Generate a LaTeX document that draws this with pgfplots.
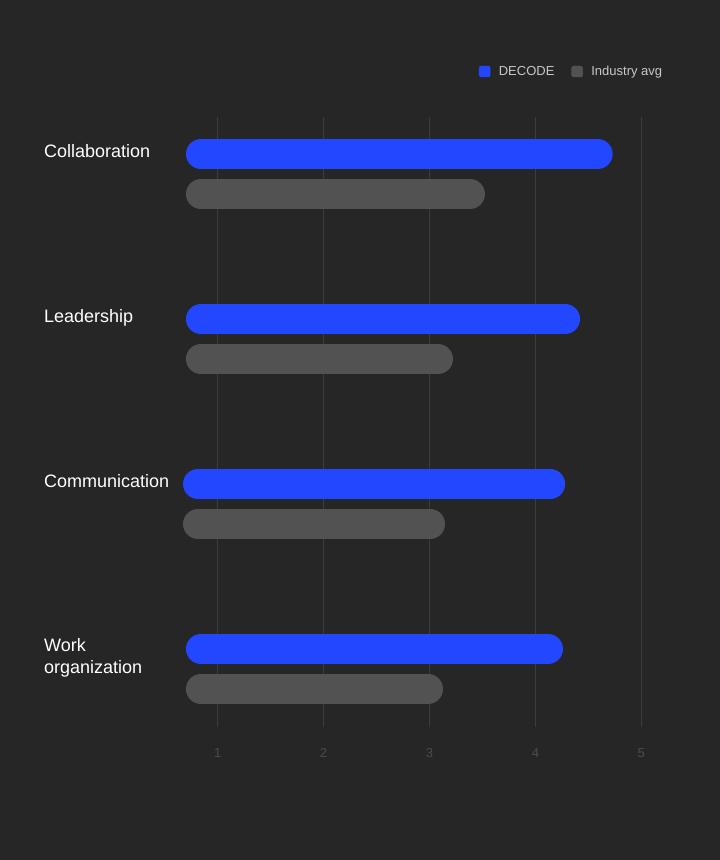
\documentclass[border=0pt]{standalone}
\usepackage{fontspec}
\setmainfont{Liberation Sans}
\usepackage{pgfplots}
\pgfplotsset{compat=1.18}
\definecolor{bg}{HTML}{262626}
\definecolor{decode}{HTML}{2346FF}
\definecolor{indavg}{HTML}{525252}
\definecolor{gridc}{HTML}{3C3C3C}
\definecolor{tickc}{HTML}{4C4C4C}
\definecolor{legc}{HTML}{C8C8C8}
\pgfplotsset{
    barline/.style={line width=30pt, line cap=round, mark=none, forget plot},
}
\begin{document}
\begin{tikzpicture}[x=1pt,y=1pt]
\fill[bg] (0,0) rectangle (720,860);
\begin{axis}[
    at={(164.75pt,133pt)}, anchor=south west,
    scale only axis,
    width=529.5pt, height=610pt,
    xmin=0.5, xmax=5.5,
    ymin=133, ymax=743,
    xtick={1,2,3,4,5},
    ytick=\empty,
    axis line style={draw=none},
    tick style={draw=none},
    xmajorgrids,
    grid style={gridc, line width=1pt},
    xticklabel style={anchor=center, yshift=-26pt, font=\fontsize{13}{15}\selectfont, text=tickc},
    /pgf/number format/assume math mode=true,
    clip=false,
    legend columns=2,
    legend style={at={(314pt,655.5pt)}, anchor=west, draw=none, fill=none,
        inner sep=0pt,
        font=\fontsize{13}{15}\selectfont, text=legc,
        /tikz/every even column/.append style={column sep=15pt}},
    legend cell align=left,
    legend image code/.code={\fill[#1, rounded corners=2pt] (0pt,-5.5pt) rectangle (11pt,5.5pt);
        \path (17.5pt,0pt);},
]
% Collaboration
\addplot[barline, decode] coordinates {(0.842,706) (4.588,706)};
\addplot[barline, indavg] coordinates {(0.842,666) (3.382,666)};
% Leadership
\addplot[barline, decode] coordinates {(0.842,541) (4.280,541)};
\addplot[barline, indavg] coordinates {(0.842,501) (3.080,501)};
% Communication
\addplot[barline, decode] coordinates {(0.814,376) (4.139,376)};
\addplot[barline, indavg] coordinates {(0.814,336) (3.005,336)};
% Work organization
\addplot[barline, decode] coordinates {(0.842,211) (4.119,211)};
\addplot[barline, indavg] coordinates {(0.842,171) (2.986,171)};
\addlegendimage{decode}
\addlegendentry{DECODE}
\addlegendimage{indavg}
\addlegendentry{Industry avg}
\end{axis}
\begin{scope}[every node/.style={anchor=base west, inner sep=0pt, text=white, font=\fontsize{18}{22.5}\selectfont, align=left}]
\node at (44,702.3) {Collaboration};
\node at (44,537.3) {Leadership};
\node at (44,372.3) {Communication};
\node at (44,186) {organization};
\node at (44,208.3) {Work};
\end{scope}
\end{tikzpicture}
\end{document}
